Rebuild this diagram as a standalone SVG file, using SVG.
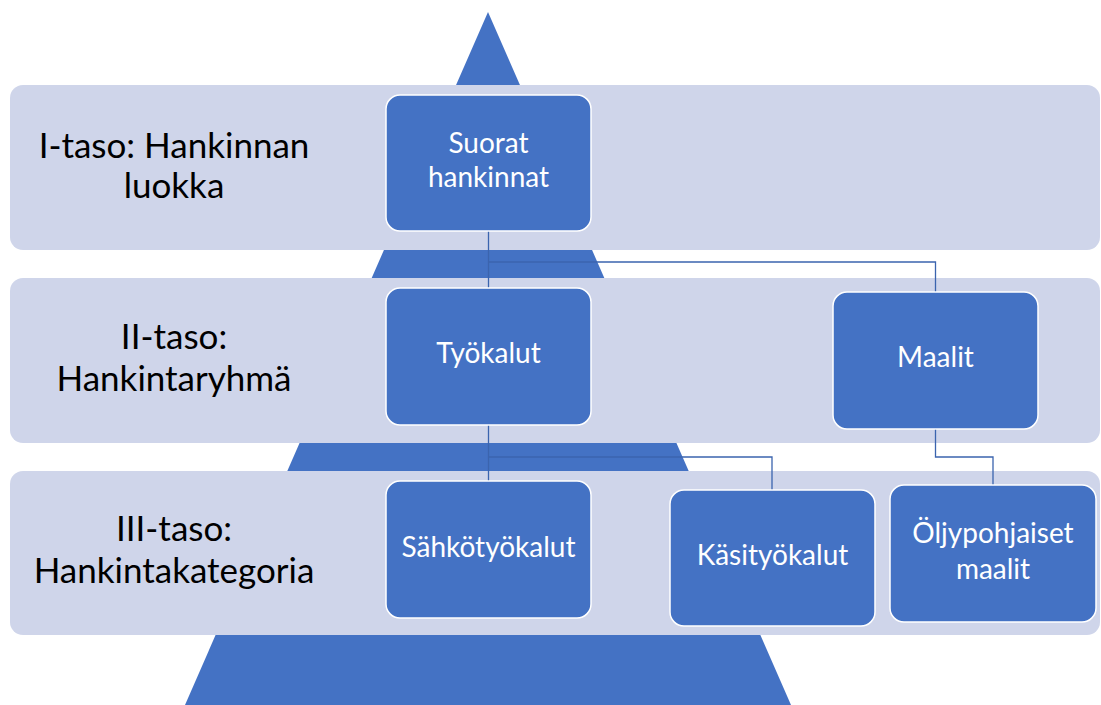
<svg xmlns="http://www.w3.org/2000/svg" width="1101" height="705" viewBox="0 0 1101 705">
<style>
.band{fill:#CFD5EA}
.node{fill:#4472C4;stroke:#FFFFFF;stroke-width:1.5}
.ntext{font-family:Lato,"Liberation Sans",sans-serif;font-size:28px;fill:#FFFFFF;text-anchor:middle}
.ltext{font-family:Lato,"Liberation Sans",sans-serif;font-size:35px;fill:#000000;text-anchor:middle}
.conn{fill:none;stroke:#3B64AE;stroke-width:1.3}
</style>
<rect width="1101" height="705" fill="#FFFFFF"/>
<polygon id="pyramid" points="488,12 185,705 791,705" fill="#4472C4"/>
<g id="band1"><rect class="band" x="10" y="85" width="1090" height="165" rx="13"/><text class="ltext" x="174" y="158">I-taso: Hankinnan</text><text class="ltext" x="174" y="198">luokka</text></g>
<g id="band2"><rect class="band" x="10" y="278" width="1090" height="165" rx="13"/><text class="ltext" x="174" y="349">II-taso:</text><text class="ltext" x="174" y="391">Hankintaryhmä</text></g>
<g id="band3"><rect class="band" x="10" y="471" width="1090" height="164" rx="13"/><text class="ltext" x="174" y="541">III-taso:</text><text class="ltext" x="174" y="583">Hankintakategoria</text></g>
<g id="connectors">
<path class="conn" d="M488.5,231 V288 M488.5,262 H935.5 V292"/>
<path class="conn" d="M488.5,425 V481 M488.5,457 H772 V490"/>
<path class="conn" d="M935.5,429 V457 H993 V485"/>
</g>
<g id="n-suorat"><rect class="node" x="386" y="95" width="205" height="136" rx="14"/><text class="ntext" x="488.5" y="153">Suorat</text><text class="ntext" x="488.5" y="187">hankinnat</text></g>
<g id="n-tyokalut"><rect class="node" x="386" y="288" width="205" height="137" rx="14"/><text class="ntext" x="488.5" y="363">Työkalut</text></g>
<g id="n-maalit"><rect class="node" x="833" y="292" width="205" height="137" rx="14"/><text class="ntext" x="935.5" y="367">Maalit</text></g>
<g id="n-sahko"><rect class="node" x="386" y="481" width="205" height="137" rx="14"/><text class="ntext" x="488.5" y="557">Sähkötyökalut</text></g>
<g id="n-kasi"><rect class="node" x="670" y="490" width="205" height="136" rx="14"/><text class="ntext" x="772.5" y="565">Käsityökalut</text></g>
<g id="n-oljy"><rect class="node" x="890" y="485" width="206" height="137" rx="14"/><text class="ntext" x="993" y="543">Öljypohjaiset</text><text class="ntext" x="993" y="579">maalit</text></g>
</svg>
